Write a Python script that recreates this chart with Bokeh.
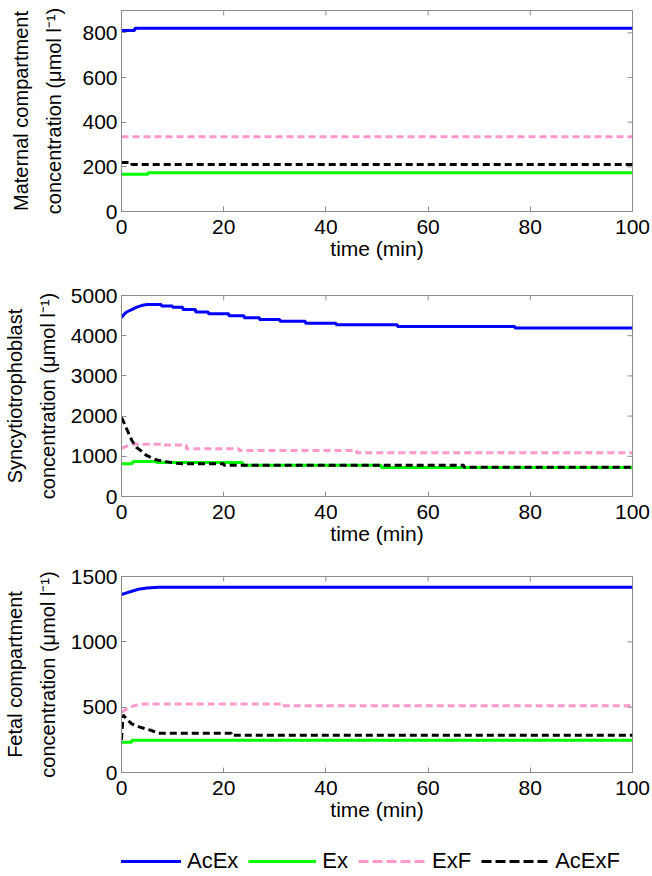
import math
from bokeh.plotting import figure
from bokeh.models import Range1d, FixedTicker, Legend, LegendItem
from bokeh.layouts import column
from bokeh.embed import file_html
from bokeh.resources import INLINE

FONT = "Liberation Sans"
GRAY = "#8c8c8c"

series_names = ["AcEx", "Ex", "ExF", "AcExF"]
series_colors = ["#0000ff", "#00ff00", "#ff99cc", "#000000"]
series_dash = ["solid", "solid", "7 4", "7 4"]
legend_dash = ["solid", "solid", "10 4", "10 4"]

x_ticks = [0, 20, 40, 60, 80, 100]

# ---- Maternal compartment ----
mat_acex_t = [0, 2.6, 2.6, 100]
mat_acex_v = [810, 810, 820, 820]
mat_ex_t = [0, 5.2, 5.2, 100]
mat_ex_v = [167, 167, 174, 174]
mat_exf_t = [0, 100]
mat_exf_v = [335, 335]
mat_acexf_t = [0, 2, 2, 100]
mat_acexf_v = [219, 219, 211, 211]
mat_yticks = [0, 200, 400, 600, 800]

# ---- Syncytiotrophoblast ----
syn_acex_t = [0, 0.5, 1, 2, 3, 3.9, 5, 7.8, 7.8, 10, 10, 12, 12, 14.5, 14.5, 17, 17,
              21, 21, 24, 24, 27, 27, 31, 31, 36, 36, 42, 42, 54, 54, 77, 77, 100]
syn_acex_v = [4450, 4530, 4590, 4650, 4710, 4750, 4776, 4776, 4740, 4740, 4710, 4710,
              4650, 4650, 4590, 4590, 4545, 4545, 4495, 4495, 4445, 4445, 4400, 4400,
              4360, 4360, 4310, 4310, 4270, 4270, 4230, 4230, 4190, 4190]
syn_ex_t = [0, 2, 2.3, 6.8, 6.8, 23.7, 23.7, 50.8, 50.8, 100]
syn_ex_v = [813, 813, 870, 870, 846, 846, 780, 780, 720, 720]
syn_exf_t = [0, 1, 2, 8, 8, 12.7, 12.7, 23, 23, 46, 46, 100]
syn_exf_v = [1200, 1250, 1300, 1300, 1280, 1280, 1190, 1190, 1145, 1145, 1090, 1090]
syn_acexf_t = [0, 0.3, 1, 1.6, 2, 2.9, 3.9, 4.9, 5.9, 6.8, 7.8, 8.8, 10.7, 12, 20, 20,
               67, 67, 100]
syn_acexf_v = [1960, 1890, 1680, 1520, 1400, 1226, 1130, 1020, 965, 913, 885, 863,
               828, 813, 813, 780, 780, 730, 730]
syn_yticks = [0, 1000, 2000, 3000, 4000, 5000]

# ---- Fetal compartment ----
fet_acex_t = [0, 1, 2, 3.6, 5, 7.2, 100]
fet_acex_v = [1362, 1375, 1387, 1405, 1412, 1418, 1418]
fet_ex_t = [0, 2, 2, 100]
fet_ex_v = [232, 232, 247, 247]
fet_exf_t = [0, 1.3, 2.6, 4.2, 31.3, 31.3, 100]
fet_exf_v = [461, 492, 513, 525, 525, 510, 510]
fet_acexf_t = [0, 0.3, 1, 2, 3.6, 5.9, 7.2, 21.5, 21.5, 100]
fet_acexf_v = [250, 440, 410, 372, 347, 321, 300, 300, 285, 285]
fet_yticks = [0, 500, 1000, 1500]

panels = [
    dict(ylabel="Maternal compartment\nconcentration (\u03bcmol l\u207b\u00b9)",
         ymax=900, yticks=mat_yticks, height=271, top=10, bottom=60, lab_off=14,
         data=[(mat_acex_t, mat_acex_v), (mat_ex_t, mat_ex_v),
               (mat_exf_t, mat_exf_v), (mat_acexf_t, mat_acexf_v)]),
    dict(ylabel="Syncytiotrophoblast\nconcentration (\u03bcmol l\u207b\u00b9)",
         ymax=5000, yticks=syn_yticks, height=285, top=24, bottom=60, lab_off=9,
         data=[(syn_acex_t, syn_acex_v), (syn_ex_t, syn_ex_v),
               (syn_exf_t, syn_exf_v), (syn_acexf_t, syn_acexf_v)]),
    dict(ylabel="Fetal compartment\nconcentration (\u03bcmol l\u207b\u00b9)",
         ymax=1500, yticks=fet_yticks, height=276, top=20, bottom=60, lab_off=9,
         data=[(fet_acex_t, fet_acex_v), (fet_ex_t, fet_ex_v),
               (fet_exf_t, fet_exf_v), (fet_acexf_t, fet_acexf_v)]),
]


def style_axis(ax, ticks, standoff):
    ax.ticker = FixedTicker(ticks=ticks)
    ax.axis_line_color = GRAY
    ax.major_tick_line_color = GRAY
    ax.minor_tick_line_color = None
    ax.major_tick_in = 5
    ax.major_tick_out = 0
    ax.major_label_text_font = FONT
    ax.major_label_text_color = "black"
    ax.major_label_text_font_size = "21px"
    ax.major_label_standoff = standoff
    ax.axis_label_text_font = FONT
    ax.axis_label_text_font_style = "normal"
    ax.axis_label_text_color = "black"


figs = []
for pnl in panels:
    p = figure(width=652, height=pnl["height"], output_backend="svg",
               toolbar_location=None,
               x_range=Range1d(0, 100), y_range=Range1d(0, pnl["ymax"]),
               min_border_left=120, min_border_right=20,
               min_border_top=pnl["top"], min_border_bottom=pnl["bottom"])
    p.grid.visible = False
    p.outline_line_color = GRAY
    for (t, v), col, dash in zip(pnl["data"], series_colors, series_dash):
        p.line(t, v, line_color=col, line_width=3, line_dash=dash)
    # mirrored inward ticks on the top and right edges (clipped by the frame)
    p.scatter(x=x_ticks, y=[pnl["ymax"]] * len(x_ticks), marker="dash", size=10,
              angle=math.pi / 2, line_color=GRAY, line_width=1)
    p.scatter(x=[100] * len(pnl["yticks"]), y=pnl["yticks"], marker="dash", size=10,
              line_color=GRAY, line_width=1)
    xa = p.xaxis[0]
    ya = p.yaxis[0]
    style_axis(xa, x_ticks, 8)
    style_axis(ya, pnl["yticks"], 4)
    xa.axis_label = "time (min)"
    xa.axis_label_text_font_size = "21px"
    xa.axis_label_standoff = 0
    ya.axis_label = pnl["ylabel"]
    ya.axis_label_text_font_size = "20px"
    ya.axis_label_standoff = pnl["lab_off"]
    ya.axis_label_text_line_height = 1.5
    figs.append(p)

# legend strip below the three panels
leg = figure(width=652, height=44, output_backend="svg", toolbar_location=None,
             x_range=Range1d(0, 1), y_range=Range1d(0, 1),
             x_axis_type=None, y_axis_type=None,
             min_border_left=120, min_border_right=20,
             min_border_top=14, min_border_bottom=0,
             outline_line_color=None)
leg.grid.visible = False
items = []
for name, col, dash in zip(series_names, series_colors, legend_dash):
    r = leg.line(x=[-2, -1], y=[-2, -1], line_color=col, line_width=3, line_dash=dash)
    items.append(LegendItem(label=name, renderers=[r]))
legend = Legend(items=items, orientation="horizontal", location=(-8, 2),
                glyph_width=68, glyph_height=20, label_standoff=6, spacing=10,
                padding=0, margin=0, border_line_color=None,
                background_fill_alpha=0, label_text_font=FONT,
                label_text_font_size="22px", label_text_color="black")
leg.add_layout(legend)
figs.append(leg)

layout = column(*figs)
open("out.html", "w").write(file_html(layout, INLINE))
